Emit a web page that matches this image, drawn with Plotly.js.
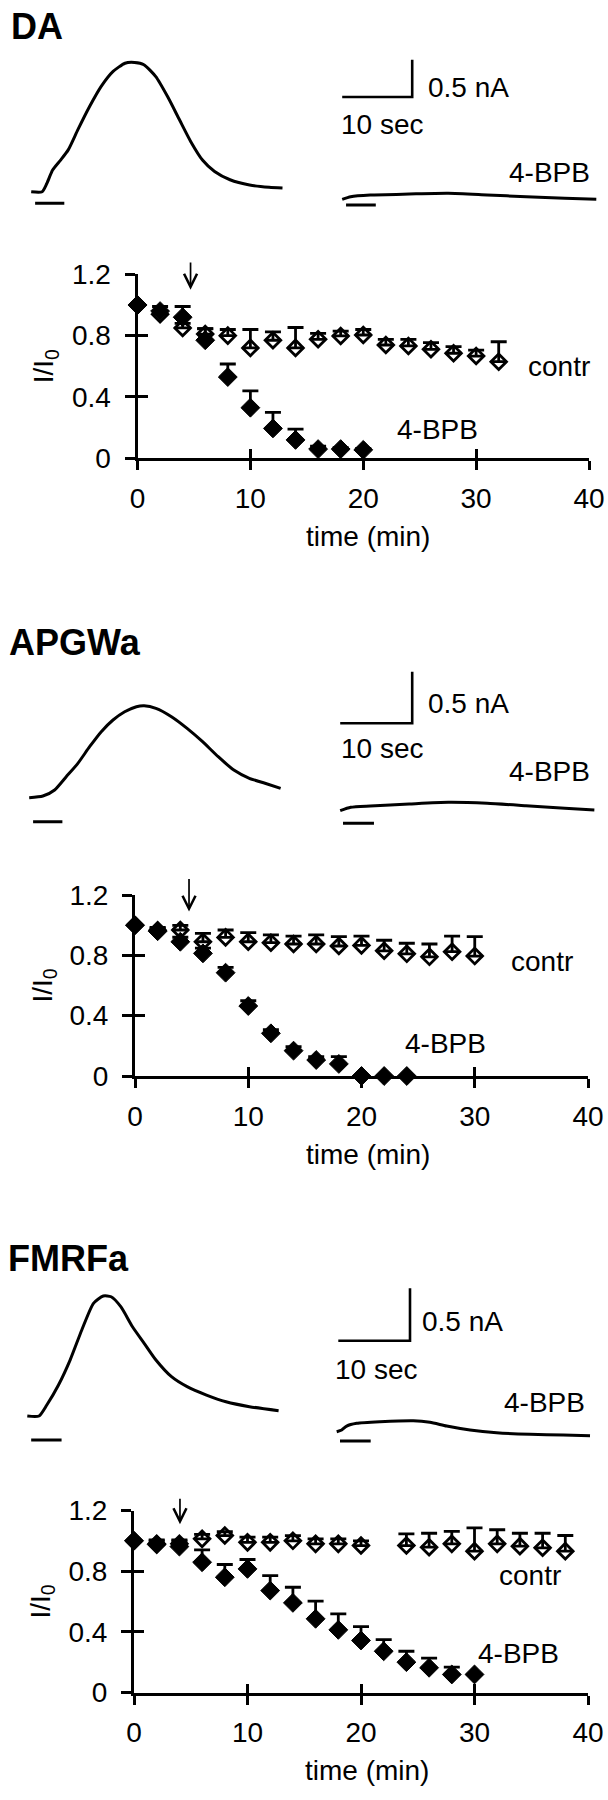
<!DOCTYPE html>
<html><head><meta charset="utf-8">
<script src="https://cdn.plot.ly/plotly-3.0.1.min.js"></script>
<style>html,body{margin:0;padding:0;background:#fff}#chart{width:608px;height:1800px}</style>
</head><body><div id="chart"></div>
<script>
// ---------------- DATA ----------------
// Scatter plots: time (min) vs I/I0 (normalised current), mean + upward SEM
const DA_bpbT = [0,2,4,6,8,10,12,14,16,18,20];
const DA_bpbY = [1.0,0.96,0.92,0.77,0.53,0.33,0.195,0.12,0.06,0.06,0.055];
const DA_bpbErr = [null,0.03,0.07,0.075,0.085,0.11,0.105,0.07,0.02,0.01,0.01];
const DA_contrT = [0,2,4,6,8,10,12,14,16,18,20,22,24,26,28,30,32];
const DA_contrY = [1.0,0.94,0.85,0.81,0.80,0.72,0.77,0.72,0.776,0.798,0.804,0.739,0.733,0.711,0.685,0.667,0.63];
const DA_contrErr = [null,0.02,0.03,0.036,0.04,0.12,0.055,0.133,0.039,0.032,0.036,0.037,0.043,0.043,0.043,0.039,0.13];

const APGWa_bpbT = [0,2,4,6,8,10,12,14,16,18,20,22,24];
const APGWa_bpbY = [1.0,0.96,0.89,0.813,0.685,0.464,0.283,0.168,0.106,0.08,0,0,0];
const APGWa_bpbErr = [null,0.02,0.03,0.035,0.035,0.035,0.025,0.027,0.022,0.048,null,null,null];
const APGWa_contrT = [0,2,4,6,8,10,12,14,16,18,20,22,24,26,28,30];
const APGWa_contrY = [1.0,0.966,0.968,0.89,0.919,0.89,0.884,0.875,0.875,0.862,0.866,0.83,0.81,0.79,0.824,0.795];
const APGWa_contrErr = [null,0.02,0.03,0.056,0.049,0.06,0.051,0.053,0.06,0.062,0.062,0.07,0.07,0.085,0.104,0.129];

const FMRFa_bpbT = [0,2,4,6,8,10,12,14,16,18,20,22,24,26,28,30];
const FMRFa_bpbY = [1.0,0.976,0.962,0.859,0.76,0.815,0.672,0.591,0.486,0.413,0.343,0.272,0.2,0.163,0.119,0.119];
const FMRFa_bpbErr = [null,0.03,0.044,0.081,0.084,0.062,0.099,0.103,0.116,0.106,0.092,0.077,0.072,0.063,0.048,null];
const FMRFa_contrT = [0,2,4,6,8,10,12,14,16,18,20,24,26,28,30,32,34,36,38];
const FMRFa_contrY = [1.0,0.98,0.98,1.013,1.035,0.99,0.99,1.0,0.98,0.98,0.969,0.969,0.958,0.98,0.932,0.98,0.965,0.954,0.932];
const FMRFa_contrErr = [null,0.02,0.02,0.03,0.025,0.034,0.034,0.035,0.033,0.033,0.031,0.077,0.092,0.083,0.154,0.093,0.085,0.096,0.103];

// Current recordings: time (s) vs current (nA above baseline)
const DA_recT = [0,1.56,2.23,3.06,4.17,5.29,6.67,8.34,10.0,11.7,13.4,14.76,16.1,17.8,19.5,21.2,22.8,24.5,26.2,28.4,31.2,34.0,35.9];
const DA_recI = [0,0,0.11,0.29,0.42,0.56,0.83,1.14,1.41,1.61,1.72,1.73,1.70,1.54,1.27,0.96,0.67,0.42,0.27,0.16,0.09,0.06,0.05];
const DA_recBpbT = [0,1.21,4.0,9.57,15.14,20.7,26.3,31.8,36.3];
const DA_recBpbI = [0,0.035,0.058,0.071,0.08,0.058,0.035,0.013,0];

const APGWa_recT = [0,1.9,3.53,5.14,6.76,8.39,10.01,11.64,13.26,14.89,15.97,17.6,19.76,21.93,24.08,26.25,28.42,30.58,32.75,34.92];
const APGWa_recI = [0,0.016,0.075,0.203,0.333,0.494,0.64,0.753,0.833,0.882,0.891,0.866,0.785,0.672,0.543,0.397,0.268,0.188,0.14,0.091];
const APGWa_recBpbT = [0,1.46,4.17,9.58,15.0,20.4,25.8,31.2,35.3];
const APGWa_recBpbI = [0,0.033,0.046,0.065,0.081,0.072,0.048,0.023,0.007];

const FMRFa_recT = [0,1.63,2.72,4.35,5.97,7.6,9.23,10.6,11.69,13.04,14.67,16.3,17.94,20.11,22.29,24.99,27.71,30.98,35.05];
const FMRFa_recI = [0,0,0.105,0.296,0.534,0.821,1.075,1.145,1.138,1.043,0.852,0.694,0.534,0.375,0.28,0.2,0.136,0.089,0.051];
const FMRFa_recBpbT = [0,0.7,1.39,2.79,6.04,10.68,13.0,15.34,18.6,22.3,26.96,31.6,35.33];
const FMRFa_recBpbI = [0,0.016,0.054,0.08,0.095,0.105,0.09,0.054,0.016,-0.01,-0.025,-0.031,-0.038];

// Agonist application (s) under each recording
const DA_stimCtrl = [0.56,4.73], DA_stimBpb = [0.55,4.8];
const APGWa_stimCtrl = [0.54,4.61], APGWa_stimBpb = [0.39,4.69];
const FMRFa_stimCtrl = [0.54,4.78], FMRFa_stimBpb = [0.46,4.74];

// 4-BPB application time (min), marked by the arrow
const DA_arrowT = 4.7, APGWa_arrowT = 4.77, FMRFa_arrowT = 4.05;

// Scale bar values and axis ticks
const scaleSec = 10, scaleNA = 0.5;
const xTicks = [0,10,20,30,40];
const yTicks = [0,0.4,0.8,1.2];
const yTickText = ['0','0.4','0.8','1.2'];
const panelNames = ['DA','APGWa','FMRFa'];
const seriesNames = ['contr','4-BPB'];

// ---------------- LAYOUT (pixel positions) ----------------
const W = 608, H = 1800;
const FONT = 'Liberation Sans, Arial, Helvetica, sans-serif';
const FS = 28;
const panels = [
 {name: panelNames[0],
  d: {bT:DA_bpbT,bY:DA_bpbY,bE:DA_bpbErr,cT:DA_contrT,cY:DA_contrY,cE:DA_contrErr,
      rT:DA_recT,rI:DA_recI,rbT:DA_recBpbT,rbI:DA_recBpbI,sC:DA_stimCtrl,sB:DA_stimBpb,arrowT:DA_arrowT},
  p: {title:[9,26], left:{ox:31.2,oy:191.7,stim:11.6}, right:{ox:342.2,oy:199.3,stim:5.7}, sx:7.0, sy:74.7,
      bar:[342.2,97], nA:[426,87], sec:[339,125], bpbTxt:[592,172],
      plot:{x0:137.5,x1:589,yb:458.3,yt:274.3}, arrow:[1.10,1.28],
      contrLbl:[37.3,0.6], bpbLbl:[26.6,0.19], yTitleX:45, xTitleX:368, xTitleDy:78}},
 {name: panelNames[1],
  d: {bT:APGWa_bpbT,bY:APGWa_bpbY,bE:APGWa_bpbErr,cT:APGWa_contrT,cY:APGWa_contrY,cE:APGWa_contrErr,
      rT:APGWa_recT,rI:APGWa_recI,rbT:APGWa_recBpbT,rbI:APGWa_recBpbI,sC:APGWa_stimCtrl,sB:APGWa_stimBpb,arrowT:APGWa_arrowT},
  p: {title:[7,642], left:{ox:29.2,oy:797.7,stim:24}, right:{ox:340.2,oy:810.7,stim:12.6}, sx:7.2, sy:103.2,
      bar:[340.2,723.3], nA:[426,703.3], sec:[339,748.3], bpbTxt:[592,771.7],
      plot:{x0:135,x1:588,yb:1076,yt:895}, arrow:[1.09,1.31],
      contrLbl:[35.9,0.76], bpbLbl:[27.4,0.217], yTitleX:44, xTitleX:368, xTitleDy:78}},
 {name: panelNames[2],
  d: {bT:FMRFa_bpbT,bY:FMRFa_bpbY,bE:FMRFa_bpbErr,cT:FMRFa_contrT,cY:FMRFa_contrY,cE:FMRFa_contrErr,
      rT:FMRFa_recT,rI:FMRFa_recI,rbT:FMRFa_recBpbT,rbI:FMRFa_recBpbI,sC:FMRFa_stimCtrl,sB:FMRFa_stimBpb,arrowT:FMRFa_arrowT},
  p: {title:[6,1258.3], left:{ox:27.3,oy:1416,stim:24}, right:{ox:336.7,oy:1431.7,stim:9.3}, sx:7.17, sy:104.8,
      bar:[338.3,1340.7], nA:[420,1321.7], sec:[333,1369.3], bpbTxt:[587,1402.7],
      plot:{x0:134,x1:588,yb:1692.5,yt:1510.5}, arrow:[1.11,1.28],
      contrLbl:[34.9,0.77], bpbLbl:[33.9,0.255], yTitleX:42, xTitleX:367, xTitleDy:78}}
];

const sfx = n => (n === 1 ? '' : String(n));
const xr = n => 'x' + sfx(n), yr = n => 'y' + sfx(n);
const xk = n => 'xaxis' + sfx(n), yk = n => 'yaxis' + sfx(n);

const traces = [];
const layout = {
  width: W, height: H, margin: {l:0,r:0,t:0,b:0},
  paper_bgcolor: 'white', plot_bgcolor: 'rgba(0,0,0,0)',
  showlegend: false, hovermode: false,
  font: {family: FONT, color: 'black', size: FS},
  annotations: []
};
const LW = 3;

function hiddenAxes(nx, ny, domX, domY, ox, oy, sx, sy) {
  // domX: [left px, right px], domY: [top px, bottom px]
  layout[xk(nx)] = {domain:[domX[0]/W, domX[1]/W], range:[(domX[0]-ox)/sx, (domX[1]-ox)/sx],
                    visible:false, anchor: yr(ny), fixedrange:true};
  layout[yk(ny)] = {domain:[1-domY[1]/H, 1-domY[0]/H], range:[(oy-domY[1])/sy, (oy-domY[0])/sy],
                    visible:false, anchor: xr(nx), fixedrange:true};
}

panels.forEach((P, i) => {
  const d = P.d, p = P.p;
  const nP = i*5+1, nO = i*5+2, nL = i*5+3, nR = i*5+4, nS = i*5+5;
  const pl = p.plot;
  // main plot axes
  layout[xk(nP)] = {domain:[pl.x0/W, pl.x1/W], range:[0,40], anchor: yr(nP), fixedrange:true,
    showline:true, linewidth:LW, linecolor:'black', ticks:'outside', ticklen:9, tickwidth:LW, tickcolor:'black',
    tickmode:'array', tickvals:xTicks, ticktext:xTicks.map(String), showgrid:false, zeroline:false,
    tickfont:{family:FONT, size:FS, color:'black'}, ticklabelstandoff: 4};
  layout[yk(nP)] = {domain:[1-pl.yb/H, 1-pl.yt/H], range:[0,1.2], anchor: xr(nP), fixedrange:true,
    showline:true, linewidth:LW, linecolor:'black', ticks:'outside', ticklen:10, tickwidth:LW, tickcolor:'black',
    tickmode:'array', tickvals:yTicks, ticktext:yTickText, showgrid:false, zeroline:false,
    tickfont:{family:FONT, size:FS, color:'black'}, ticklabelstandoff: 8};
  // overlay axes giving the inner half of the crossing ticks
  layout[xk(nO)] = {overlaying: xr(nP), anchor: yr(nP), side:'bottom', range:[0,40], fixedrange:true,
    showline:false, ticks:'inside', ticklen:9, tickwidth:LW, tickcolor:'black', tickmode:'array', tickvals:xTicks,
    showticklabels:false, showgrid:false, zeroline:false};
  layout[yk(nO)] = {overlaying: yr(nP), anchor: xr(nP), side:'left', range:[0,1.2], fixedrange:true,
    showline:false, ticks:'inside', ticklen:10, tickwidth:LW, tickcolor:'black', tickmode:'array', tickvals:yTicks,
    showticklabels:false, showgrid:false, zeroline:false};
  traces.push({type:'scatter', mode:'markers', x:[], y:[], xaxis:xr(nO), yaxis:yr(nP), showlegend:false, hoverinfo:'skip'});
  traces.push({type:'scatter', mode:'markers', x:[], y:[], xaxis:xr(nP), yaxis:yr(nO), showlegend:false, hoverinfo:'skip'});

  // control series (open diamonds) then 4-BPB (filled diamonds)
  traces.push({type:'scatter', mode:'markers', name: seriesNames[0], x:d.cT, y:d.cY, xaxis:xr(nP), yaxis:yr(nP),
    cliponaxis:false, marker:{symbol:'diamond-open', size:12, color:'black', line:{width:2.8, color:'black'}},
    error_y:{type:'data', symmetric:false, array:d.cE, arrayminus:d.cE.map(()=>0), width:8, thickness:2.8, color:'black'}});
  traces.push({type:'scatter', mode:'markers', name: seriesNames[1], x:d.bT, y:d.bY, xaxis:xr(nP), yaxis:yr(nP),
    cliponaxis:false, marker:{symbol:'diamond', size:14.5, color:'black', line:{width:1, color:'black'}},
    error_y:{type:'data', symmetric:false, array:d.bE, arrayminus:d.bE.map(()=>0), width:8, thickness:2.8, color:'black'}});

  // current recordings
  hiddenAxes(nL, nL, [0, 312], [p.left.oy-175, p.left.oy+35], p.left.ox, p.left.oy, p.sx, p.sy);
  hiddenAxes(nR, nR, [318, 608], [p.right.oy-175, p.right.oy+35], p.right.ox, p.right.oy, p.sx, p.sy);
  traces.push({type:'scatter', mode:'lines', x:d.rT, y:d.rI, xaxis:xr(nL), yaxis:yr(nL), cliponaxis:false,
    line:{color:'black', width:3, shape:'spline', smoothing:0.6}, hoverinfo:'skip'});
  traces.push({type:'scatter', mode:'lines', x:d.rbT, y:d.rbI, xaxis:xr(nR), yaxis:yr(nR), cliponaxis:false,
    line:{color:'black', width:3, shape:'spline', smoothing:0.6}, hoverinfo:'skip'});
  const lvlL = -p.left.stim/p.sy, lvlR = -p.right.stim/p.sy;
  traces.push({type:'scatter', mode:'lines', x:d.sC, y:d.sC.map(()=>lvlL), xaxis:xr(nL), yaxis:yr(nL),
    line:{color:'black', width:3}, hoverinfo:'skip'});
  traces.push({type:'scatter', mode:'lines', x:d.sB, y:d.sB.map(()=>lvlR), xaxis:xr(nR), yaxis:yr(nR),
    line:{color:'black', width:3}, hoverinfo:'skip'});

  // scale bar
  const pad = 12;
  const bx0 = p.bar[0], by0 = p.bar[1];
  hiddenAxes(nS, nS, [bx0-pad, bx0+scaleSec*p.sx+pad], [by0-scaleNA*p.sy-pad, by0+pad], bx0, by0, p.sx, p.sy);
  traces.push({type:'scatter', mode:'lines', x:[0, scaleSec, scaleSec], y:[0, 0, scaleNA], xaxis:xr(nS), yaxis:yr(nS),
    line:{color:'black', width:2.6}, hoverinfo:'skip'});

  const A = layout.annotations;
  A.push({xref:'paper', yref:'paper', x:p.title[0]/W, y:1-p.title[1]/H, xanchor:'left', yanchor:'middle',
    text:'<b>'+P.name+'</b>', showarrow:false, font:{family:FONT, size:36, color:'black'}});
  A.push({xref:'paper', yref:'paper', x:p.nA[0]/W, y:1-p.nA[1]/H, xanchor:'left', yanchor:'middle',
    text: scaleNA + ' nA', showarrow:false, font:{family:FONT, size:FS}});
  A.push({xref:'paper', yref:'paper', x:p.sec[0]/W, y:1-p.sec[1]/H, xanchor:'left', yanchor:'middle',
    text: scaleSec + ' sec', showarrow:false, font:{family:FONT, size:FS}});
  A.push({xref:'paper', yref:'paper', x:p.bpbTxt[0]/W, y:1-p.bpbTxt[1]/H, xanchor:'right', yanchor:'middle',
    text: seriesNames[1], showarrow:false, font:{family:FONT, size:FS}});
  A.push({xref:xr(nP), yref:yr(nP), x:p.contrLbl[0], y:p.contrLbl[1], xanchor:'center', yanchor:'middle',
    text: seriesNames[0], showarrow:false, font:{family:FONT, size:FS}});
  A.push({xref:xr(nP), yref:yr(nP), x:p.bpbLbl[0], y:p.bpbLbl[1], xanchor:'center', yanchor:'middle',
    text: seriesNames[1], showarrow:false, font:{family:FONT, size:FS}});
  A.push({xref:'paper', yref:'paper', x:p.yTitleX/W, y:1-(pl.yb+pl.yt)/2/H, xanchor:'center', yanchor:'middle',
    text:'I/I<sub>0</sub>', textangle:-90, showarrow:false, font:{family:FONT, size:FS}});
  A.push({xref:'paper', yref:'paper', x:p.xTitleX/W, y:1-(pl.yb+p.xTitleDy)/H, xanchor:'center', yanchor:'middle',
    text:'time (min)', showarrow:false, font:{family:FONT, size:FS}});
  A.push({xref:xr(nP), yref:yr(nP), x:d.arrowT, y:p.arrow[0], axref:xr(nP), ayref:yr(nP), ax:d.arrowT, ay:p.arrow[1],
    text:'', font:{size:1}, borderpad:0, showarrow:true, arrowhead:5, arrowsize:1.5, arrowwidth:1.7,
    arrowcolor:'black', standoff:0, startstandoff:0});
});

Plotly.newPlot('chart', traces, layout, {staticPlot:true, displayModeBar:false});
</script></body></html>
